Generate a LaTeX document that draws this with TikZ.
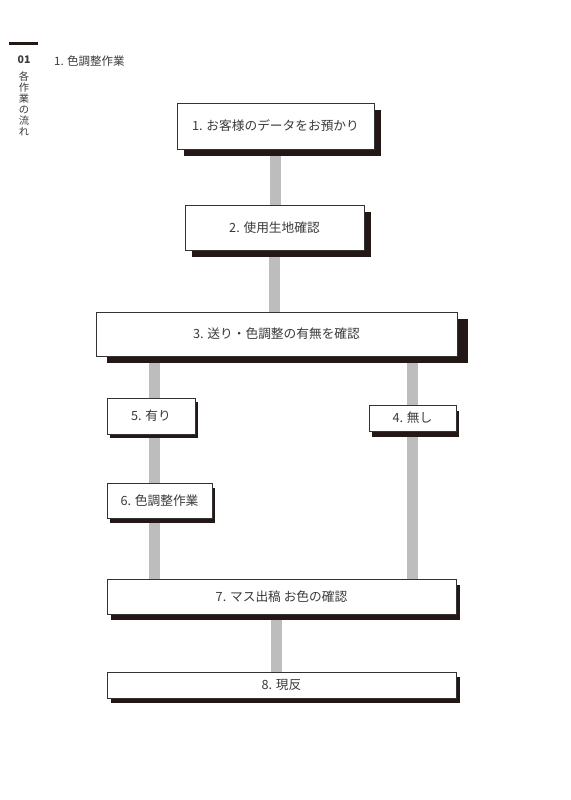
\documentclass[tikz,border=0pt]{standalone}
\usepackage{fontspec}
\setmainfont{Noto Sans CJK JP}
\usetikzlibrary{positioning}
\usetikzlibrary{shadows}
\usetikzlibrary{backgrounds}
\definecolor{boxline}{HTML}{333333}
\definecolor{shadowc}{HTML}{231815}
\definecolor{barc}{HTML}{BDBDBD}
\definecolor{textc}{HTML}{3A3A3A}

\begin{document}
\begin{tikzpicture}[x=1pt,y=-1pt,
  step node/.style={rectangle,fill=white,draw=boxline,line width=0.8pt,text=textc,
    font=\fontsize{12.7pt}{15pt}\selectfont,inner sep=0pt},
  box shadow/.style 2 args={drop shadow={shadow xshift=#1,shadow yshift=#2,fill=shadowc,opacity=1}},
  bar/.style={draw=barc,line width=11pt}]
  \useasboundingbox (0,0) rectangle (570,800);

  % header
  \draw[line width=3pt,shadowc] (9,43.5) -- (38,43.5);
  \node[text=textc,inner sep=0pt,font=\bfseries\fontsize{10.5pt}{12pt}\selectfont] (num) at (24,60) {01};
  \node[text=textc,inner sep=0pt,anchor=west,font=\fontsize{11.5pt}{12pt}\selectfont] (title) at (54,61) {1. 色調整作業};
  \node[text=textc,inner sep=0pt,anchor=north,align=center,font=\fontsize{10.3pt}{11pt}\selectfont] (side) at (24,72) {各\\作\\業\\の\\流\\れ};

  % steps
  \node[step node,box shadow={7pt}{-7pt},minimum width=197pt,minimum height=46pt] (1) at (275.5,126) {1. お客様のデータをお預かり};
  \node[step node,box shadow={7pt}{-7pt},minimum width=179pt,minimum height=45pt] (2) at (274.5,227.5) {2. 使用生地確認};
  \node[step node,box shadow={11pt}{-7pt},minimum width=361pt,minimum height=44pt] (3) at (276.5,334) {3. 送り・色調整の有無を確認};
  \node[step node,box shadow={3pt}{-4pt},minimum width=88pt,minimum height=36pt] (5) at (151,416) {5. 有り};
  \node[step node,box shadow={3pt}{-6pt},minimum width=87pt,minimum height=26pt] (4) at (412.5,418) {4. 無し};
  \node[step node,box shadow={3pt}{-5pt},minimum width=105pt,minimum height=35pt] (6) at (159.5,500.5) {6. 色調整作業};
  \node[step node,box shadow={4pt}{-6pt},minimum width=349pt,minimum height=35pt] (7) at (281.5,596.5) {7. マス出稿 お色の確認};
  \node[step node,box shadow={4pt}{-5pt},minimum width=349pt,minimum height=26pt] (8) at (281.5,685) {8. 現反};

  \coordinate (L) at (154,0);
  \coordinate (R) at (412.5,0);
  \coordinate (M) at (276,0);

  \begin{scope}[on background layer]
    \path[bar]
      (1) -- (1 |- 2)
      (2) -- (2 |- 3)
      (3 -| L) -- (7 -| L)
      (3 -| R) -- (7 -| R)
      (7 -| M) -- (8 -| M);
  \end{scope}
\end{tikzpicture}
\end{document}
